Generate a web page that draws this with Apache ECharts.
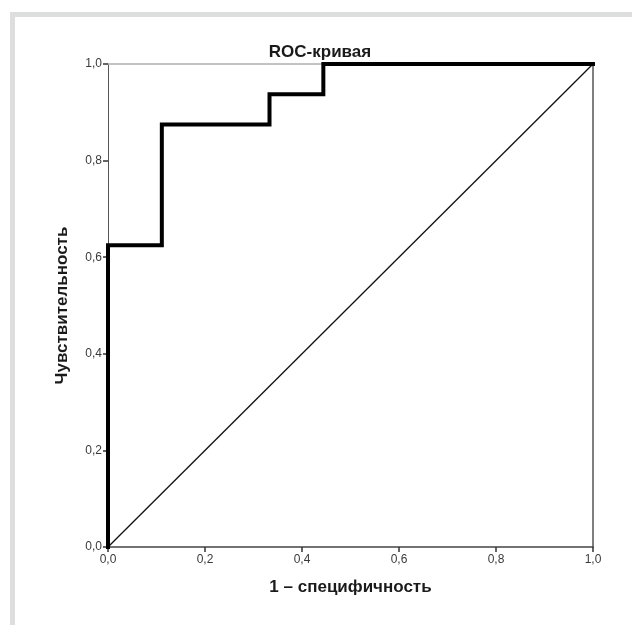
<!DOCTYPE html>
<html>
<head>
<meta charset="utf-8">
<script src="https://cdn.jsdelivr.net/npm/echarts@6/dist/echarts.min.js"></script>
<style>
html,body{margin:0;padding:0;background:#fff;}
#frame{position:absolute;left:10px;top:12px;width:622px;height:613px;border-left:5px solid #dcdfde;border-top:5px solid #dcdfde;box-sizing:border-box;}
#chart{position:absolute;left:0;top:0;width:632px;height:625px;}
</style>
</head>
<body>
<div id="frame"></div>
<div id="chart"></div>
<script>
var fpr = [0, 0, 0.111, 0.111, 0.333, 0.333, 0.444, 0.444, 1];
var tpr = [0, 0.625, 0.625, 0.875, 0.875, 0.9375, 0.9375, 1, 1];
var refX = [0, 1];
var refY = [0, 1];

var FONT = '"Liberation Sans", Arial, sans-serif';
function fmt(v){ return v.toFixed(1).replace('.', ','); }

var chart = echarts.init(document.getElementById('chart'), null, {renderer:'canvas'});
chart.setOption({
  backgroundColor: 'transparent',
  animation: false,
  title: {
    text: 'ROC-кривая',
    left: 315, top: 39, textAlign: 'center',
    textStyle: {fontFamily: FONT, fontSize: 17, fontWeight: 'bold', color: '#1a1a1a'}
  },
  grid: {left: 108, right: 39, top: 64, bottom: 78, containLabel: false},
  xAxis: [{
    type: 'value', min: 0, max: 1, interval: 0.2,
    name: '1 – специфичность', nameLocation: 'middle', nameGap: 32,
    nameTextStyle: {fontFamily: FONT, fontSize: 17, fontWeight: 'bold', color: '#1a1a1a'},
    axisLine: {show: true, onZero: false, lineStyle: {color: '#444', width: 1.5}},
    axisTick: {show: true, inside: false, length: 5, lineStyle: {color: '#333', width: 1.5}},
    axisLabel: {fontFamily: FONT, fontSize: 12, color: '#3a3a3a', margin: 7, formatter: fmt},
    splitLine: {show: false}
  }, {
    type: 'value', min: 0, max: 1, position: 'top',
    axisLine: {show: true, onZero: false, lineStyle: {color: '#b0b0b0', width: 1.5}},
    axisTick: {show: false}, axisLabel: {show: false}, splitLine: {show: false}
  }],
  yAxis: [{
    type: 'value', min: 0, max: 1, interval: 0.2,
    name: 'Чувствительность', nameLocation: 'middle', nameGap: 37,
    nameTextStyle: {fontFamily: FONT, fontSize: 17, fontWeight: 'bold', color: '#1a1a1a'},
    axisLine: {show: true, onZero: false, lineStyle: {color: '#555', width: 1}},
    axisTick: {show: true, inside: false, length: 5, lineStyle: {color: '#333', width: 1.5}},
    axisLabel: {fontFamily: FONT, fontSize: 12, color: '#3a3a3a', margin: 6, formatter: fmt},
    splitLine: {show: false}
  }, {
    type: 'value', min: 0, max: 1, position: 'right',
    axisLine: {show: true, onZero: false, lineStyle: {color: '#555', width: 1.5}},
    axisTick: {show: false}, axisLabel: {show: false}, splitLine: {show: false}
  }],
  series: [{
    type: 'line',
    data: refX.map(function(x, i){ return [x, refY[i]]; }),
    showSymbol: false, symbol: 'none',
    lineStyle: {color: '#111', width: 1.3},
    z: 2
  }, {
    type: 'line',
    data: fpr.map(function(x, i){ return [x, tpr[i]]; }),
    showSymbol: false, symbol: 'none',
    lineStyle: {color: '#000', width: 4, join: 'miter', cap: 'square'},
    z: 3
  }]
});
</script>
</body>
</html>
